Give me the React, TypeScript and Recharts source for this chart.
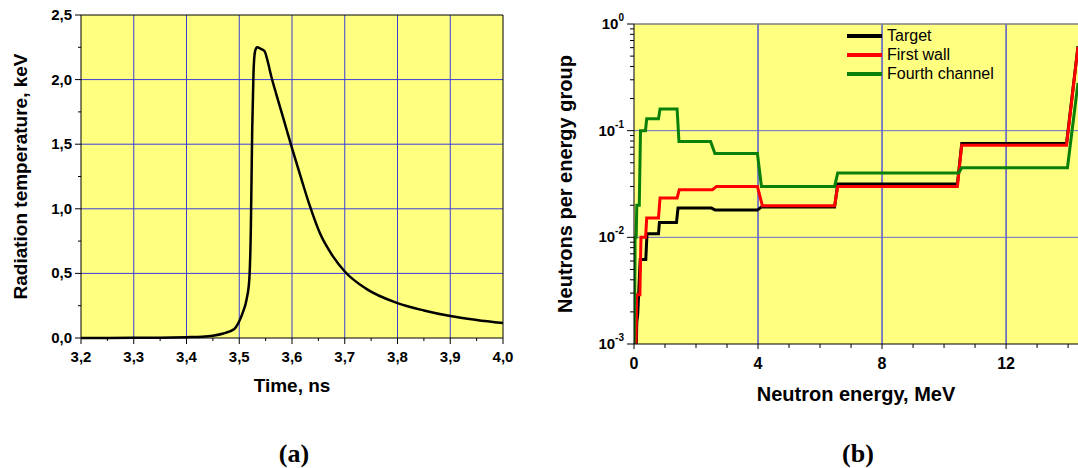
import React from "react";
import { LineChart, Line, XAxis, YAxis, CartesianGrid, ReferenceLine, Legend } from "recharts";

const FONT = '"Liberation Sans", Arial, Helvetica, sans-serif';
const PLOT_BG = "#ffff80";

// (a) radiation temperature pulse
const timeNs = [
  3.2, 3.3, 3.35, 3.4, 3.43, 3.45, 3.47, 3.49, 3.5, 3.5075, 3.514, 3.519, 3.522, 3.5245, 3.527, 3.53, 3.534,
  3.54, 3.548, 3.554, 3.561, 3.57, 3.58, 3.59, 3.6, 3.62, 3.634, 3.653, 3.678, 3.7, 3.741, 3.8, 3.85, 3.9, 3.95, 4.0,
];
const tempKeV = [
  0, 0.001, 0.002, 0.006, 0.01, 0.018, 0.035, 0.068, 0.13, 0.206, 0.3, 0.45, 0.85, 1.6, 2.05, 2.22, 2.25,
  2.24, 2.22, 2.14, 2.02, 1.89, 1.75, 1.61, 1.47, 1.2, 1.02, 0.81, 0.63, 0.515, 0.38, 0.27, 0.213, 0.17, 0.14, 0.116,
];
const timeMajor = [3.2, 3.3, 3.4, 3.5, 3.6, 3.7, 3.8, 3.9, 4.0];
const timeMinor = [3.25, 3.35, 3.45, 3.55, 3.65, 3.75, 3.85, 3.95];
const tempMajor = [0, 0.5, 1, 1.5, 2, 2.5];
const tempMinor = [0.25, 0.75, 1.25, 1.75, 2.25];

// (b) neutron spectra, step curves (energy MeV, neutrons per group)
const seriesNames = ["Target", "First wall", "Fourth channel"];
const targetE = [0.07, 0.09, 0.12, 0.2, 0.38, 0.42, 0.79, 0.82, 1.37, 1.42, 2.5, 2.62, 3.98, 4.11, 6.47, 6.57, 10.43, 10.57, 13.95, 14.32];
const targetN = [0.0008, 0.0016, 0.0019, 0.0062, 0.0062, 0.0108, 0.0108, 0.0138, 0.0138, 0.0188, 0.0188, 0.018, 0.018, 0.0192, 0.0192, 0.0316, 0.0316, 0.0756, 0.0756, 0.62];
const wallE = [0.06, 0.085, 0.19, 0.225, 0.375, 0.41, 0.79, 0.84, 1.39, 1.46, 2.53, 2.66, 3.98, 4.14, 6.47, 6.57, 10.43, 10.57, 13.95, 14.32];
const wallN = [0.0008, 0.0029, 0.0029, 0.01, 0.01, 0.0152, 0.0152, 0.0234, 0.0234, 0.028, 0.028, 0.03, 0.03, 0.0198, 0.0198, 0.03, 0.03, 0.073, 0.073, 0.61];
const channelE = [0.0, 0.03, 0.035, 0.07, 0.09, 0.17, 0.21, 0.37, 0.41, 0.79, 0.84, 1.39, 1.45, 2.47, 2.61, 3.98, 4.11, 6.47, 6.57, 10.47, 10.57, 13.98, 14.32];
const channelN = [0.0008, 0.0048, 0.01, 0.01, 0.02, 0.02, 0.1, 0.1, 0.129, 0.129, 0.16, 0.16, 0.079, 0.079, 0.061, 0.061, 0.03, 0.03, 0.04, 0.04, 0.045, 0.045, 0.28];
const energyMajor = [0, 4, 8, 12];
const energyMinor = [1, 2, 3, 5, 6, 7, 9, 10, 11, 13, 14];
const fluxMajor = [0.001, 0.01, 0.1, 1];
const fluxMinor = [
  0.002, 0.003, 0.004, 0.005, 0.006, 0.007, 0.008, 0.009,
  0.02, 0.03, 0.04, 0.05, 0.06, 0.07, 0.08, 0.09,
  0.2, 0.3, 0.4, 0.5, 0.6, 0.7, 0.8, 0.9,
];

const tempData = timeNs.map((t, i) => ({ t, v: tempKeV[i] }));
const toSeries = (e: number[], n: number[]) => e.map((x, i) => ({ e: x, n: n[i] }));

const comma = (v: number) => v.toFixed(1).replace(".", ",");

function TimeTick({ x, y, payload }: any) {
  const major = timeMajor.includes(payload.value);
  return (
    <g>
      <line x1={x} y1={y} x2={x} y2={y + (major ? 6 : 3)} stroke="#000" strokeWidth={1} />
      {major && (
        <text x={x} y={y + 24} textAnchor="middle" fontSize={15} fontWeight="bold" fontFamily={FONT} fill="#000">
          {comma(payload.value)}
        </text>
      )}
    </g>
  );
}

function TempTick({ x, y, payload }: any) {
  const major = tempMajor.includes(payload.value);
  return (
    <g>
      <line x1={x} y1={y} x2={x - (major ? 6 : 3)} y2={y} stroke="#000" strokeWidth={1} />
      {major && (
        <text x={x - 9} y={y + 5} textAnchor="end" fontSize={15} fontWeight="bold" fontFamily={FONT} fill="#000">
          {comma(payload.value)}
        </text>
      )}
    </g>
  );
}

function EnergyTick({ x, y, payload }: any) {
  const major = energyMajor.includes(payload.value);
  return (
    <g>
      <line x1={x} y1={y} x2={x} y2={y + (major ? 5 : 4)} stroke="#000" strokeWidth={1} />
      {major && (
        <text x={x} y={y + 25} textAnchor="middle" fontSize={16} fontWeight="bold" fontFamily={FONT} fill="#000">
          {payload.value}
        </text>
      )}
    </g>
  );
}

function FluxTick({ x, y, payload }: any) {
  const major = fluxMajor.includes(payload.value);
  const exp = Math.round(Math.log10(payload.value));
  return (
    <g>
      <line x1={x} y1={y} x2={x - (major ? 7 : 4)} y2={y} stroke="#000" strokeWidth={1} />
      {major && (
        <text x={x - 10} y={y + 5} textAnchor="end" fontSize={15} fontWeight="bold" fontFamily={FONT} fill="#000">
          <tspan>10</tspan>
          <tspan dy={-8} fontSize={10}>{exp}</tspan>
        </text>
      )}
    </g>
  );
}

function SpectrumLegend({ payload }: any) {
  const items = [...(payload || [])].sort((a: any, b: any) => seriesNames.indexOf(a.value) - seriesNames.indexOf(b.value));
  return (
    <div style={{ fontFamily: FONT, fontSize: 16, color: "#000", lineHeight: "19px" }}>
      {items.map((p: any) => (
        <div key={p.value} style={{ display: "flex", alignItems: "center", height: 19 }}>
          <span style={{ display: "inline-block", width: 35, height: 4, background: p.color, marginRight: 5 }} />
          <span>{p.value}</span>
        </div>
      ))}
    </div>
  );
}

function TemperatureChart() {
  return (
    <LineChart width={520} height={400} data={tempData} margin={{ top: 15, right: 17, left: 0, bottom: 0 }}>
      <CartesianGrid
        fill={PLOT_BG}
        stroke="#3c3cdc"
        strokeWidth={1}
        verticalValues={timeMajor.slice(1, -1)}
        horizontalValues={tempMajor.slice(1, -1)}
      />
      <XAxis
        dataKey="t"
        type="number"
        domain={[3.2, 4.0]}
        ticks={[...timeMajor, ...timeMinor]}
        interval={0}
        tick={<TimeTick />}
        tickLine={false}
        tickSize={0}
        tickMargin={0}
        height={62}
        stroke="#000"
        label={{ value: "Time, ns", position: "insideBottom", offset: 8, style: { fontFamily: FONT, fontSize: 19, fontWeight: "bold", fill: "#000" } }}
      />
      <YAxis
        type="number"
        domain={[0, 2.5]}
        ticks={[...tempMajor, ...tempMinor]}
        interval={0}
        tick={<TempTick />}
        tickLine={false}
        tickSize={0}
        tickMargin={0}
        width={81}
        stroke="#000"
        label={{
          value: "Radiation temperature, keV",
          angle: -90,
          position: "insideLeft",
          offset: 20,
          style: { textAnchor: "middle", fontFamily: FONT, fontSize: 19, fontWeight: "bold", fill: "#000" },
        }}
      />
      <ReferenceLine y={2.5} stroke="#000" strokeWidth={1} />
      <ReferenceLine x={4.0} stroke="#000" strokeWidth={1} />
      <Line type="monotone" dataKey="v" stroke="#000" strokeWidth={2.5} dot={false} isAnimationActive={false} />
    </LineChart>
  );
}

function SpectrumChart() {
  return (
    <LineChart width={558} height={420} margin={{ top: 24, right: 0, left: 0, bottom: 0 }}>
      <CartesianGrid fill={PLOT_BG} horizontal={false} stroke="#0000ff" strokeWidth={1} verticalValues={energyMajor.slice(1)} />
      <CartesianGrid vertical={false} stroke="#6a6ad2" strokeWidth={1} horizontalValues={[0.01, 0.1]} />
      <XAxis
        dataKey="e"
        type="number"
        domain={[0, 14.32]}
        allowDataOverflow
        ticks={[...energyMajor, ...energyMinor]}
        interval={0}
        tick={<EnergyTick />}
        tickLine={false}
        tickSize={0}
        tickMargin={0}
        height={76}
        stroke="#000"
        label={{ value: "Neutron energy, MeV", position: "insideBottom", offset: 19, style: { fontFamily: FONT, fontSize: 20, fontWeight: "bold", fill: "#000" } }}
      />
      <YAxis
        type="number"
        scale="log"
        domain={[0.001, 1]}
        allowDataOverflow
        ticks={[...fluxMajor, ...fluxMinor]}
        interval={0}
        tick={<FluxTick />}
        tickLine={false}
        tickSize={0}
        tickMargin={0}
        width={114}
        stroke="#000"
        label={{
          value: "Neutrons per energy group",
          angle: -90,
          position: "insideLeft",
          offset: 45,
          style: { textAnchor: "middle", fontFamily: FONT, fontSize: 20, fontWeight: "bold", fill: "#000" },
        }}
      />
      <ReferenceLine y={1} stroke="#808080" strokeWidth={1.5} />
      <Legend
        layout="vertical"
        align="center"
        verticalAlign="middle"
        wrapperStyle={{ left: 327, top: 26, width: 200 }}
        content={<SpectrumLegend />}
      />
      <Line data={toSeries(targetE, targetN)} dataKey="n" name={seriesNames[0]} type="linear" stroke="#000" strokeWidth={3} dot={false} isAnimationActive={false} />
      <Line data={toSeries(wallE, wallN)} dataKey="n" name={seriesNames[1]} type="linear" stroke="#ff0000" strokeWidth={3} dot={false} isAnimationActive={false} />
      <Line data={toSeries(channelE, channelN)} dataKey="n" name={seriesNames[2]} type="linear" stroke="#0a800a" strokeWidth={3} dot={false} isAnimationActive={false} />
    </LineChart>
  );
}

const captionStyle: React.CSSProperties = {
  position: "absolute",
  top: 436,
  width: 60,
  textAlign: "center",
  fontFamily: '"Liberation Serif", "Times New Roman", serif',
  fontWeight: "bold",
  fontSize: 26,
  lineHeight: "36px",
};

export default function App() {
  return (
    <div style={{ position: "absolute", left: 0, top: 0, width: 1078, height: 468, background: "#fff", overflow: "hidden" }}>
      <div style={{ position: "absolute", left: 0, top: 0 }}>
        <TemperatureChart />
      </div>
      <div style={{ position: "absolute", left: 520, top: 0 }}>
        <SpectrumChart />
      </div>
      <div style={{ ...captionStyle, left: 264 }}>(a)</div>
      <div style={{ ...captionStyle, left: 828 }}>(b)</div>
    </div>
  );
}
